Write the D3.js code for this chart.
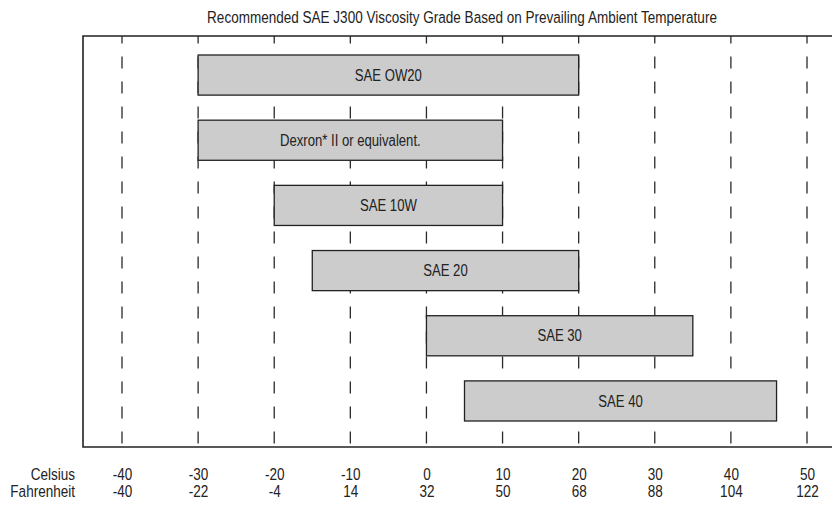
<!DOCTYPE html>
<html>
<head>
<meta charset="utf-8">
<script src="https://cdn.jsdelivr.net/npm/d3@7"></script>
<style>
  html, body { margin: 0; padding: 0; background: #fff; }
  svg { display: block; }
  text { font-family: "Liberation Sans Narrow", "Arial Narrow", "Liberation Sans", Arial, sans-serif; fill: #222; }
</style>
</head>
<body>
<svg id="chart" width="832" height="506"></svg>
<script>
const title = "Recommended SAE J300 Viscosity Grade Based on Prevailing Ambient Temperature";
const grades = ["SAE OW20", "Dexron* II or equivalent.", "SAE 10W", "SAE 20", "SAE 30", "SAE 40"];
const lowC  = [-30, -30, -20, -15, 0, 5];
const highC = [20, 10, 10, 20, 35, 46];
const celsiusTicks = [-40, -30, -20, -10, 0, 10, 20, 30, 40, 50];
const celsiusLabels = ["-40", "-30", "-20", "-10", "0", "10", "20", "30", "40", "50"];
const fahrenheitLabels = ["-40", "-22", "-4", "14", "32", "50", "68", "88", "104", "122"];

const svg = d3.select("#chart");
const frame = { left: 83, top: 36, bottom: 447, right: 832 };
const SX = 0.82; // condensed look

const x = d3.scaleLinear().domain([-40, 50]).range([122, 807]);
const y = d3.scaleBand().domain(grades).range([55, 421]).paddingInner(25 / 65).paddingOuter(0);

function narrow(sel, px, py) {
  sel.attr("x", 0).attr("y", 0)
     .attr("transform", (d, i) => `translate(${px(d, i)},${py(d, i)}) scale(${SX},1)`);
}

// title
svg.append("text")
  .attr("text-anchor", "middle")
  .attr("font-size", 16.5)
  .text(title)
  .call(narrow, () => 462, () => 23);

// gridlines
svg.append("g").selectAll("line")
  .data(celsiusTicks)
  .join("line")
  .attr("x1", d => x(d)).attr("x2", d => x(d))
  .attr("y1", frame.top).attr("y2", frame.bottom)
  .attr("stroke", "#2a2a2a")
  .attr("stroke-width", 1.3)
  .attr("stroke-dasharray", "12,13")
  .attr("stroke-dashoffset", 4.5);

// bars
const bars = svg.append("g");
bars.selectAll("rect")
  .data(grades)
  .join("rect")
  .attr("x", (d, i) => x(lowC[i]))
  .attr("y", d => y(d))
  .attr("width", (d, i) => x(highC[i]) - x(lowC[i]))
  .attr("height", y.bandwidth())
  .attr("fill", "#cccccc")
  .attr("stroke", "#222")
  .attr("stroke-width", 1.3);

bars.selectAll("text")
  .data(grades)
  .join("text")
  .attr("dy", "0.35em")
  .attr("text-anchor", "middle")
  .attr("font-size", 16)
  .text(d => d)
  .call(narrow, (d, i) => (x(lowC[i]) + x(highC[i])) / 2, d => y(d) + y.bandwidth() / 2);

// frame
svg.append("path")
  .attr("d", `M${frame.right},${frame.top}H${frame.left}V${frame.bottom}H${frame.right}`)
  .attr("fill", "none")
  .attr("stroke", "#222")
  .attr("stroke-width", 1.6);

// axis labels (Celsius / Fahrenheit rows)
const rows = [
  { name: "Celsius", labels: celsiusLabels, base: 480 },
  { name: "Fahrenheit", labels: fahrenheitLabels, base: 497 }
];
rows.forEach(r => {
  const ax = d3.axisBottom(x).tickValues(celsiusTicks).tickSize(0).tickPadding(0)
    .tickFormat((d, i) => r.labels[i]);
  const g = svg.append("g").attr("transform", `translate(0,${r.base})`).call(ax);
  g.select(".domain").remove();
  g.attr("font-family", null).attr("font-size", null);
  g.selectAll(".tick text")
    .attr("dy", null)
    .attr("font-size", 16.5)
    .attr("fill", "#222")
    .attr("x", 0).attr("y", 0)
    .attr("transform", `scale(${SX},1)`);
  svg.append("text")
    .attr("text-anchor", "end")
    .attr("font-size", 16.5)
    .text(r.name)
    .call(narrow, () => 75, () => r.base);
});
</script>
</body>
</html>
